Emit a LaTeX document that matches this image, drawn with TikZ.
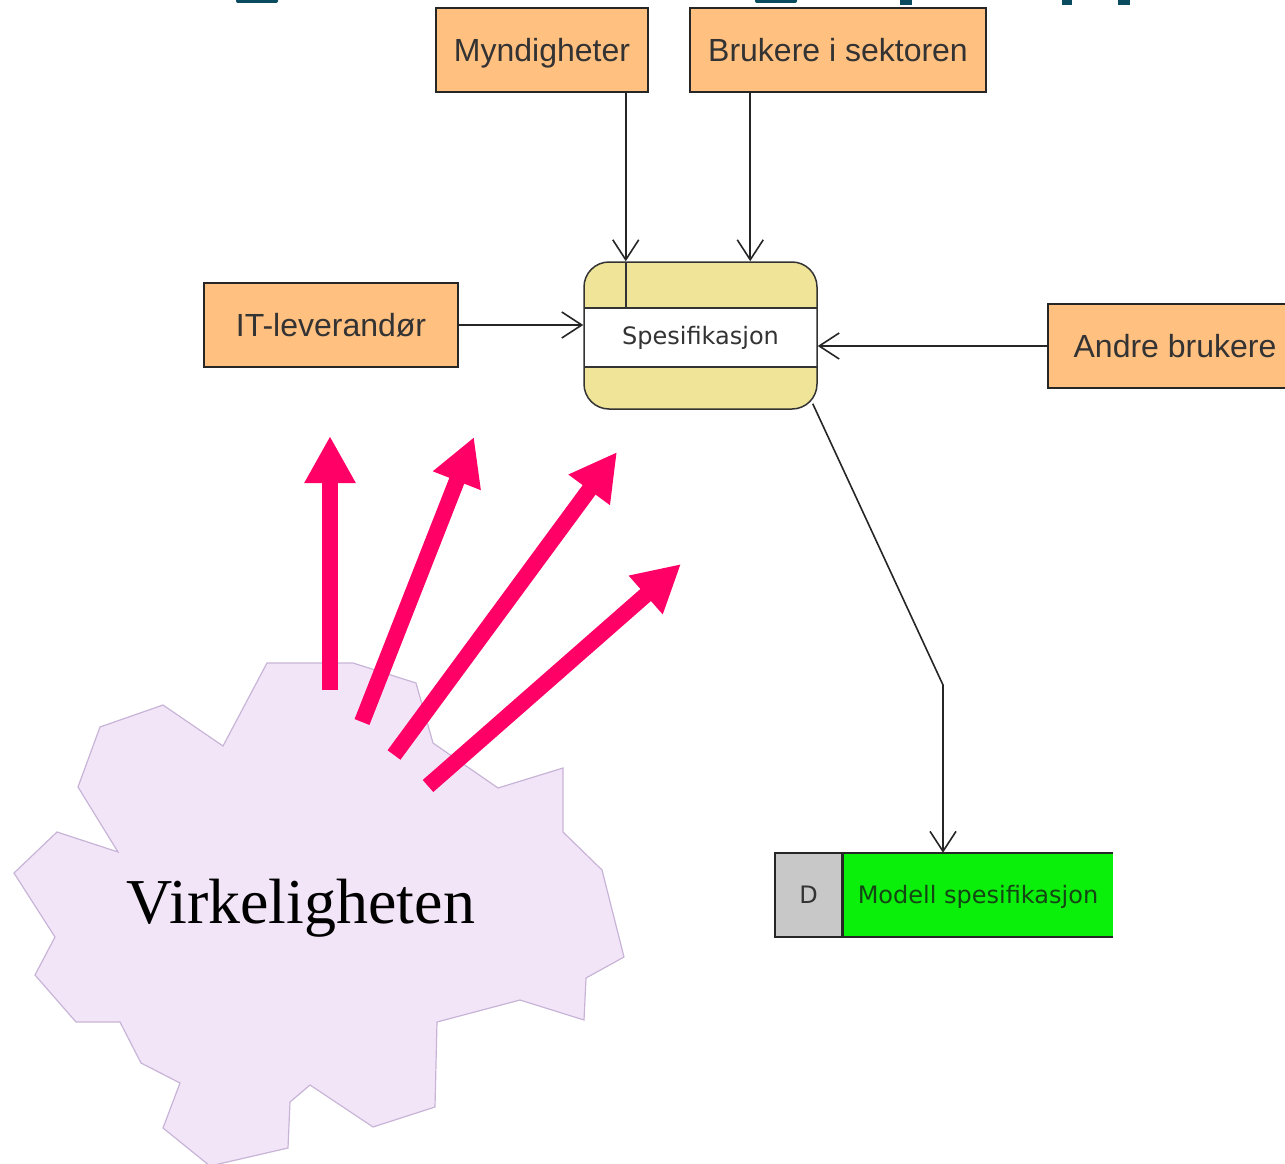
\documentclass[tikz,border=0pt]{standalone}
\usepackage{fontspec}
\usepackage{tikz}
\usetikzlibrary{arrows.meta,calc,positioning}
\newfontfamily\boxfont{Liberation Sans}
\newfontfamily\dfdfont{DejaVu Sans}
\newfontfamily\realfont{Liberation Serif}
\definecolor{extfill}{RGB}{255,192,128}
\definecolor{procfill}{RGB}{240,228,152}
\definecolor{storegreen}{RGB}{10,240,10}
\definecolor{storegray}{RGB}{200,200,200}
\definecolor{cloudfill}{RGB}{243,229,248}
\definecolor{cloudline}{RGB}{200,180,215}
\definecolor{raypink}{RGB}{255,0,102}
\definecolor{titleteal}{RGB}{10,75,95}
\definecolor{storetext}{RGB}{20,70,20}
\tikzset{
  ext/.style={draw=black!85, line width=1.5pt, fill=extfill, minimum height=84pt, inner sep=0pt,
    text height=23pt, text depth=0pt, text=black!80, font=\boxfont\fontsize{32}{38}\selectfont},
  proc/.style={draw=black!80, line width=1.5pt, fill=procfill, rounded corners=25pt,
    minimum width=233pt, minimum height=147pt, inner sep=0pt, text=black!80,
    text height=17.5pt, text depth=0pt, font=\dfdfont\fontsize{24}{28}\selectfont,
    path picture={
      \fill[white, sharp corners] ([yshift=-46pt]path picture bounding box.north west) rectangle ([yshift=42pt]path picture bounding box.south east);
      \draw[line width=2pt] ([yshift=-46pt]path picture bounding box.north west) -- ([yshift=-46pt]path picture bounding box.north east);
      \draw[line width=2pt] ([yshift=42pt]path picture bounding box.south west) -- ([yshift=42pt]path picture bounding box.south east);
      \draw[line width=2pt] ([xshift=42pt]path picture bounding box.north west) -- ([xshift=42pt,yshift=-46pt]path picture bounding box.north west);
    }},
  dcell/.style={draw=black!85, line width=1.5pt, fill=storegray, minimum width=67pt, minimum height=84pt,
    inner sep=0pt, text height=17.5pt, text depth=0pt, text=black!80, font=\dfdfont\fontsize{24}{28}\selectfont},
  dstore/.style={fill=storegreen, minimum width=270pt, minimum height=84pt, inner sep=0pt,
    text height=17.5pt, text depth=0pt, text=storetext, font=\dfdfont\fontsize{24}{28}\selectfont},
  flow/.style={draw=black!85, line width=1.6pt, -{Straight Barb[length=20pt,width=26pt]}},
  ray/.style={draw=raypink, line width=16pt, -{Triangle[length=47pt,width=48pt]}},
}
\begin{document}
\begin{tikzpicture}[x=1pt,y=-1pt]
    \useasboundingbox (0,0) rectangle (1285,1164);

    % Title remnants (cut off)
    \fill[titleteal, rounded corners=2pt] (236,-6) rectangle (278,3);
    \fill[titleteal, rounded corners=2pt] (755,-6) rectangle (797,3);
    \fill[titleteal] (900,-6) rectangle (912,5);
    \fill[titleteal] (1062,-6) rectangle (1072,5);
    \fill[titleteal] (1118,-6) rectangle (1130,5);

    % Reality
    \draw[cloudline, fill=cloudfill, line width=1.2pt]
        (267,663) -- (353,663) -- (416,683) -- (433,743) -- (498,788) -- (563,768)
        -- (563,832) -- (602,870) -- (624,957) -- (586,978) -- (584,1020) -- (520,1000)
        -- (437,1022) -- (435,1107) -- (373,1127) -- (310,1085) -- (290,1102) -- (288,1148)
        -- (210,1166) -- (163,1128) -- (180,1083) -- (141,1063) -- (120,1022) -- (76,1022)
        -- (35,975) -- (55,937) -- (14,873) -- (57,832) -- (118,852) -- (78,787)
        -- (100,727) -- (163,705) -- (223,746) -- cycle;
    \node[anchor=base, inner sep=0pt, font=\realfont\fontsize{64}{74}\selectfont] (real) at (301,923) {Virkeligheten};

    % Rays
    \coordinate (r1a) at (330,690); \coordinate (r1b) at (330,436);
    \coordinate (r2a) at (362,722); \coordinate (r2b) at (474,437);
    \coordinate (r3a) at (394,755); \coordinate (r3b) at (617,452);
    \coordinate (r4a) at (428,786); \coordinate (r4b) at (681,564);
    \draw[ray] (r1a) -- (r1b);
    \draw[ray] (r2a) -- (r2b);
    \draw[ray] (r3a) -- (r3b);
    \draw[ray] (r4a) -- (r4b);

    % External entities
    \node[ext, minimum width=212pt] (myn) at (542,50) {Myndigheter};
    \node[ext, minimum width=296pt] (bru) at (838,50) {Brukere i sektoren};
    \node[ext, minimum width=254pt] (itl) at (331,325) {IT-leverandør};
    \node[ext, minimum width=254pt] (andre) at (1175,346) {Andre brukere};

    % Process
    \node[proc] (spes) at (700.5,335.5) {Spesifikasjon};

    % Data store
    \node[dcell] (dlab) at (808.5,895) {D};
    \node[dstore, anchor=west] (store) at (dlab.east) {Modell spesifikasjon};
    \draw[black!85, line width=1.5pt] (store.north west) -- (store.north east);
    \draw[black!85, line width=1.5pt] (store.south west) -- (store.south east);
    \draw[black!85, line width=1.5pt] (dlab.north east) -- (dlab.south east);

    % Flows
    \draw[flow] ([xshift=-23pt]myn.south east) -- ([xshift=-23pt]myn.south east |- spes.north);
    \draw[flow] ([xshift=61pt]bru.south west) -- ([xshift=61pt]bru.south west |- spes.north);
    \draw[flow] (itl.east) -- (itl.east -| spes.west);
    \draw[flow] (andre.west) -- (andre.west -| spes.east);
    \coordinate (bend) at (943,685);
    \draw[flow] ([shift={(-5pt,6pt)}]spes.south east) -- (bend) -- (bend |- store.north);
\end{tikzpicture}
\end{document}
